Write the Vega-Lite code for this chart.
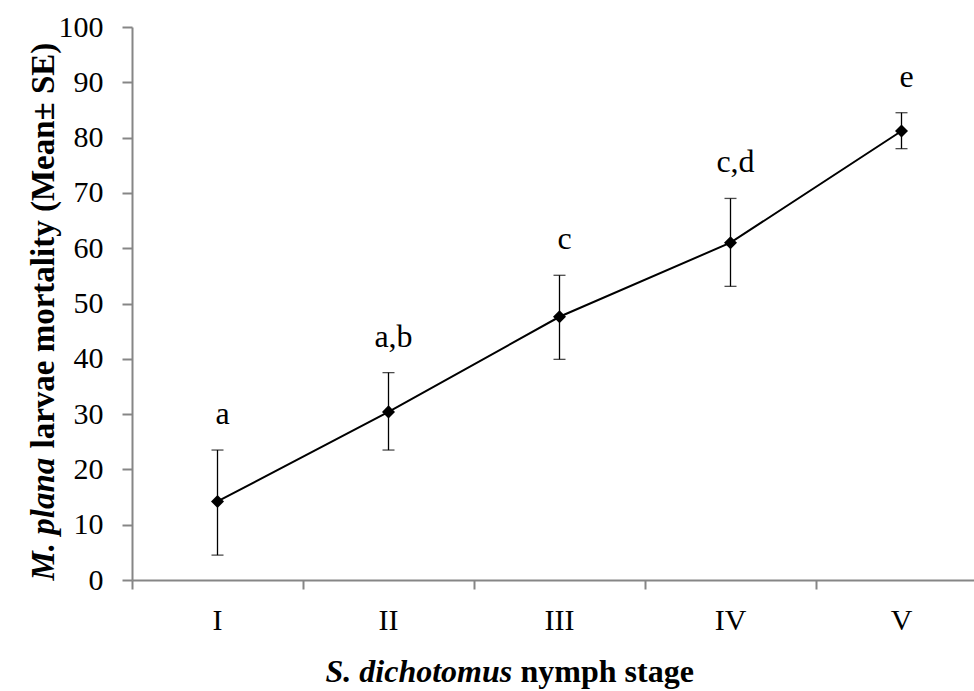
{
  "$schema": "https://vega.github.io/schema/vega-lite/v6.json",
  "autosize": "none",
  "padding": {"left": 132, "top": 27, "right": 0, "bottom": 111},
  "width": 855,
  "height": 553,
  "background": "white",
  "config": {
    "view": {"stroke": null},
    "font": "Liberation Serif",
    "axis": {
      "grid": false,
      "domainColor": "#868686",
      "domainWidth": 2,
      "tickColor": "#868686",
      "tickWidth": 2,
      "labelFont": "Liberation Serif",
      "labelColor": "black",
      "titleFont": "Liberation Serif",
      "titleColor": "black",
      "titleFontSize": 32,
      "titleFontWeight": "bold"
    }
  },
  "data": {
    "values": [
      {"stage": "I", "mean": 14.2, "lo": 4.5, "hi": 23.5, "letter": "a"},
      {"stage": "II", "mean": 30.4, "lo": 23.5, "hi": 37.5, "letter": "a,b"},
      {"stage": "III", "mean": 47.6, "lo": 39.9, "hi": 55.1, "letter": "c"},
      {"stage": "IV", "mean": 61.0, "lo": 53.1, "hi": 69.0, "letter": "c,d"},
      {"stage": "V", "mean": 81.2, "lo": 78.0, "hi": 84.5, "letter": "e"}
    ]
  },
  "resolve": {"axis": {"x": "independent", "y": "independent"}},
  "layer": [
    {
      "mark": {"type": "rule", "color": "black", "strokeWidth": 1.3},
      "encoding": {
        "x": {
          "field": "stage", "type": "ordinal", "sort": ["I", "II", "III", "IV", "V"],
          "scale": {"type": "band", "paddingInner": 0, "paddingOuter": 0},
          "axis": {
            "orient": "bottom",
            "title": "S. dichotomus",
            "titleFontStyle": "italic",
            "titleAlign": "left",
            "titleBaseline": "alphabetic",
            "titleX": 193,
            "titleY": 101,
            "labelAngle": 0,
            "labelFontSize": 30,
            "labelBaseline": "alphabetic",
            "tickSize": 9,
            "labelPadding": 40,
            "bandPosition": 0
          }
        },
        "y": {
          "field": "lo", "type": "quantitative",
          "scale": {"domain": [0, 100], "nice": false, "zero": true},
          "axis": {
            "orient": "left",
            "values": [0, 10, 20, 30, 40, 50, 60, 70, 80, 90, 100],
            "title": "M. plana",
            "titleFontSize": 33,
            "titleFontStyle": "italic",
            "titleAngle": -90,
            "titleAlign": "left",
            "titleBaseline": "alphabetic",
            "titleX": -79,
            "titleY": 553,
            "labelFontSize": 30,
            "tickSize": 10,
            "labelPadding": 19
          }
        },
        "y2": {"field": "hi"}
      }
    },
    {
      "mark": {"type": "tick", "color": "black", "thickness": 1.3, "size": 12, "orient": "horizontal"},
      "encoding": {
        "x": {"field": "stage", "type": "ordinal", "sort": ["I", "II", "III", "IV", "V"], "axis": null},
        "y": {"field": "lo", "type": "quantitative", "axis": null}
      }
    },
    {
      "mark": {"type": "tick", "color": "black", "thickness": 1.3, "size": 12, "orient": "horizontal"},
      "encoding": {
        "x": {"field": "stage", "type": "ordinal", "sort": ["I", "II", "III", "IV", "V"], "axis": null},
        "y": {"field": "hi", "type": "quantitative", "axis": null}
      }
    },
    {
      "mark": {"type": "line", "color": "black", "strokeWidth": 2},
      "encoding": {
        "x": {
          "field": "stage", "type": "ordinal", "sort": ["I", "II", "III", "IV", "V"],
          "axis": {
            "orient": "bottom",
            "title": "nymph stage",
            "titleAlign": "left",
            "titleBaseline": "alphabetic",
            "titleX": 388,
            "titleY": 101,
            "domain": false,
            "ticks": false,
            "labels": false
          }
        },
        "y": {
          "field": "mean", "type": "quantitative",
          "axis": {
            "orient": "left",
            "title": "larvae mortality (Mean± SE)",
            "titleFontSize": 33,
            "titleAngle": -90,
            "titleAlign": "left",
            "titleBaseline": "alphabetic",
            "titleX": -79,
            "titleY": 421,
            "domain": false,
            "ticks": false,
            "labels": false
          }
        }
      }
    },
    {
      "mark": {"type": "point", "shape": "diamond", "filled": true, "color": "black", "opacity": 1, "size": 170},
      "encoding": {
        "x": {"field": "stage", "type": "ordinal", "sort": ["I", "II", "III", "IV", "V"], "axis": null},
        "y": {"field": "mean", "type": "quantitative", "axis": null}
      }
    },
    {
      "mark": {"type": "text", "fontSize": 32, "font": "Liberation Serif", "baseline": "alphabetic", "align": "center", "dy": -26, "dx": 5, "color": "black"},
      "encoding": {
        "x": {"field": "stage", "type": "ordinal", "sort": ["I", "II", "III", "IV", "V"], "axis": null},
        "y": {"field": "hi", "type": "quantitative", "axis": null},
        "text": {"field": "letter"}
      }
    }
  ]
}
